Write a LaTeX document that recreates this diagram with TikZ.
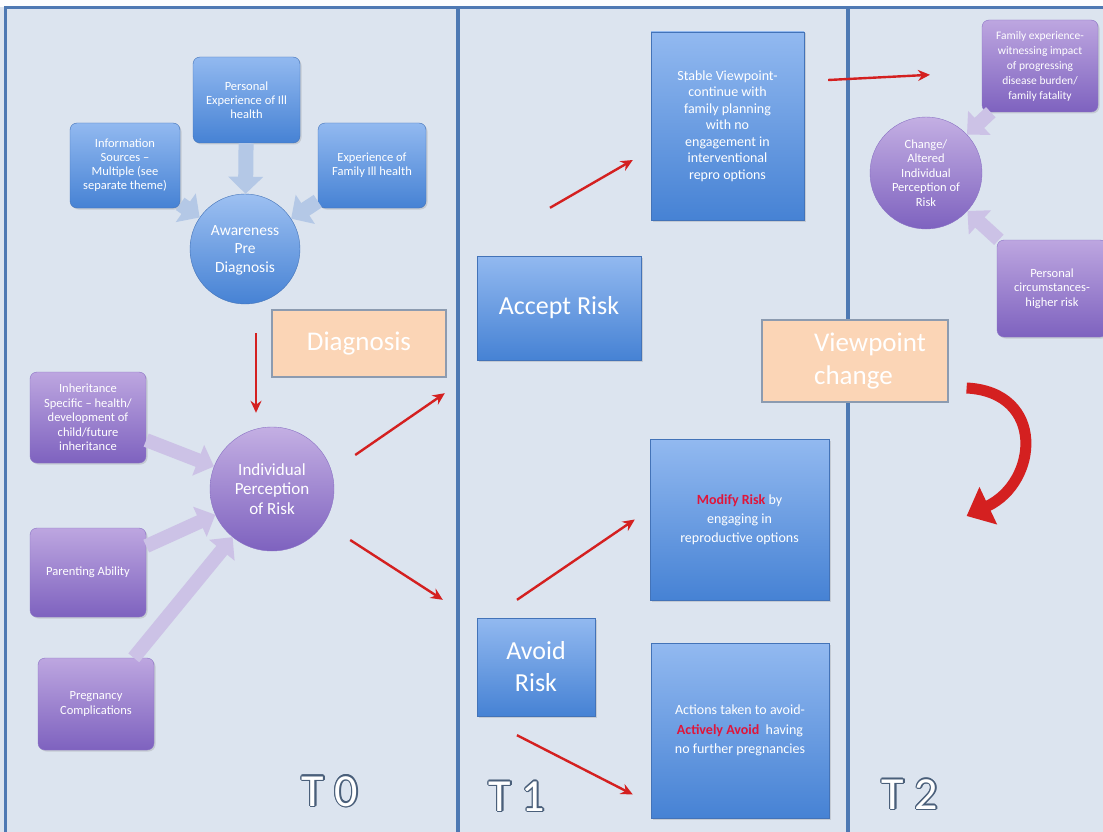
\documentclass[tikz,border=0pt]{standalone}
\usepackage{fontspec}
\setmainfont{Carlito}
\usepackage{contour}
\usetikzlibrary{arrows.meta,shadows}

\definecolor{bgpanel}{HTML}{DCE4EF}
\definecolor{ruleblue}{HTML}{4E79B3}
\definecolor{bluetop}{HTML}{92B9F0}
\definecolor{bluebot}{HTML}{4682D4}
\definecolor{blueedge}{HTML}{4373B8}
\definecolor{purptop}{HTML}{BDA6E0}
\definecolor{purpbot}{HTML}{7E62BF}
\definecolor{purpedge}{HTML}{8A72C4}
\definecolor{peach}{HTML}{FBD5B6}
\definecolor{peachedge}{HTML}{8C9BB0}
\definecolor{paleblue}{HTML}{B4C8E6}
\definecolor{palepurp}{HTML}{CCC2E6}
\definecolor{arrowred}{HTML}{D42020}
\definecolor{hilite}{HTML}{E0153A}
\definecolor{tlabline}{HTML}{4A5F7A}

\contourlength{1.3pt}
\contournumber{12}

\tikzset{
  rule/.style={draw=ruleblue, line width=4.5pt},
  panelbox/.style={rectangle, text=white, align=center, inner sep=2pt,
    drop shadow={opacity=0.25, shadow xshift=1.5pt, shadow yshift=-1.5pt}},
  bluebox/.style={panelbox, draw=blueedge, top color=bluetop, bottom color=bluebot},
  smallblue/.style={bluebox, rounded corners=7pt, font=\fontsize{12.5}{14}\selectfont},
  purpbox/.style={panelbox, rounded corners=7pt, draw=purpedge, top color=purptop,
    bottom color=purpbot, font=\fontsize{12.5}{14.5}\selectfont},
  bluecirc/.style={circle, inner sep=0pt, text=white, align=center, draw=blueedge,
    top color=bluetop!90!white, bottom color=bluebot},
  purpcirc/.style={circle, inner sep=0pt, text=white, align=center, draw=purpedge,
    top color=purptop!90!white, bottom color=purpbot},
  peachbox/.style={rectangle, fill=peach, draw=peachedge, line width=1.2pt, text=white,
    align=center, font=\fontsize{27}{33}\selectfont},
  fatblue/.style={draw=paleblue, line width=15pt, -{Triangle[length=17pt,width=34pt]}},
  fatpurp/.style={draw=palepurp, line width=14pt, -{Triangle[length=17pt,width=32pt]}},
  redarrow/.style={draw=arrowred, line width=2.4pt, -{Stealth[length=12pt,width=11pt]}},
  curvearrow/.style={draw=arrowred, line width=11pt, -{Triangle[length=24pt,width=40pt]}},
  tlab/.style={text=white, font=\fontsize{46}{46}\selectfont}
}

\begin{document}
\begin{tikzpicture}[x=1pt,y=-1pt]
  \useasboundingbox (0,0) rectangle (1103,832);
  \clip (0,0) rectangle (1103,832);
  \fill[bgpanel] (0,0) rectangle (1103,832);
  \fill[white!92!bgpanel] (0,0) rectangle (1103,7);
  %rules between the time points
  \draw[rule, line width=3pt] (5,832) -- (5,8) -- (1103,8);
  \draw[rule] (458,8) -- (458,832);
  \draw[rule] (848,8) -- (848,832);

  %T0: before diagnosis
  \node[smallblue, minimum width=107pt, minimum height=86pt] (pers) at (246.5,100) {Personal\\Experience of Ill\\health};
  \node[smallblue, minimum width=110pt, minimum height=85pt] (info) at (125,165.5) {Information\\Sources --\\Multiple (see\\separate theme)};
  \node[smallblue, minimum width=108pt, minimum height=85pt] (fam) at (372,165.5) {Experience of\\Family Ill health};
  \node[bluecirc, minimum size=110pt, font=\fontsize{15.5}{18.5}\selectfont] (aware) at (245,249) {\\[-6pt]Awareness\\Pre\\Diagnosis};
  \draw[fatblue] (pers) -- (aware);
  \draw[fatblue] (info) -- (aware);
  \draw[fatblue] (fam) -- (aware);

  \node[peachbox, minimum width=174pt, minimum height=67pt] (diag) at (359,343.5) {Diagnosis};

  %T0: after diagnosis
  \node[purpcirc, minimum size=124pt, font=\fontsize{17}{19.5}\selectfont] (indiv) at (272,489) {Individual\\Perception\\of Risk};
  \node[purpbox, minimum width=116pt, minimum height=91pt] (inher) at (88,417.5) {Inheritance\\Specific -- health/\\development of\\child/future\\inheritance};
  \node[purpbox, minimum width=116pt, minimum height=89pt] (parent) at (88,572.5) {Parenting Ability};
  \node[purpbox, minimum width=116pt, minimum height=92pt] (preg) at (96,704) {Pregnancy\\Complications};
  \draw[fatpurp] (inher) -- (indiv);
  \draw[fatpurp] (parent) -- (indiv);
  \draw[fatpurp] (preg) -- (indiv);
  \draw[redarrow, shorten <=29pt, shorten >=14pt] ([xshift=11pt]aware.south) -- ([xshift=11pt]aware.south |- indiv.north);

  \node[tlab] (tzero) at (330,792) {\contour{tlabline}{T 0}};

  %T1
  \node[bluebox, minimum width=164pt, minimum height=104pt, font=\fontsize{26}{32}\selectfont] (accept) at (559,308) {Accept Risk};
  \node[bluebox, minimum width=118pt, minimum height=98pt, font=\fontsize{26}{32}\selectfont] (avoid) at (536,667) {Avoid\\Risk};
  \node[bluebox, minimum width=153pt, minimum height=188pt, font=\fontsize{14}{16.5}\selectfont] (stable) at (727.5,126) {Stable Viewpoint-\\continue with\\family planning\\with no\\engagement in\\interventional\\repro options};
  \node[bluebox, minimum width=179pt, minimum height=161pt, font=\fontsize{14}{19}\selectfont] (modify) at (739.5,519.5) {{\bfseries\color{hilite}Modify Risk} by\\engaging in\\reproductive options};
  \node[bluebox, minimum width=178pt, minimum height=175pt, font=\fontsize{14}{19.5}\selectfont] (actions) at (740,730.5) {Actions taken to avoid-\\{\bfseries\color{hilite}Actively Avoid}\ \ having\\no further pregnancies};

  \draw[redarrow] ([shift={(21,-34)}]indiv.east) -- ([shift={(-32,33)}]accept.south west);
  \draw[redarrow] ([shift={(16,51)}]indiv.east) -- ([shift={(-34,-18)}]avoid.north west);
  \draw[redarrow] ([shift={(-9,-48)}]accept.north) -- ([shift={(-18,34)}]stable.west);
  \draw[redarrow] ([shift={(-19,-18)}]avoid.north) -- ([shift={(-15,0)}]modify.west);
  \draw[redarrow] ([shift={(-19,19)}]avoid.south) -- ([shift={(-18,64)}]actions.west);

  \node[tlab] (tone) at (517,797) {\contour{tlabline}{T 1}};

  %T2
  \node[purpcirc, minimum size=112pt, font=\fontsize{12.5}{14.5}\selectfont] (change) at (926,173) {Change/\\Altered\\Individual\\Perception of\\Risk};
  \node[purpbox, minimum width=116pt, minimum height=92pt, font=\fontsize{11.5}{15}\selectfont] (famexp) at (1040,66) {Family experience-\\witnessing impact\\of progressing\\disease burden/\\family fatality};
  \node[purpbox, minimum width=110pt, minimum height=97pt] (circs) at (1052,288.5) {Personal\\circumstances-\\higher risk};
  \draw[fatpurp] (famexp) -- (change);
  \draw[fatpurp] (circs) -- (change);
  \draw[redarrow] ([shift={(24,-46)}]stable.east) -- ([shift={(4,-42)}]change.north);

  \node[peachbox, minimum width=186pt, minimum height=82pt, align=left] (vpchange) at (855,361) {\hspace*{30pt}Viewpoint\\\hspace*{30pt}change};
  \draw[curvearrow] ([shift={(18,27)}]vpchange.east) .. controls +(79,4) and +(72,-34) .. ([shift={(18,155)}]vpchange.east);

  \node[tlab] (ttwo) at (910,795) {\contour{tlabline}{T 2}};
\end{tikzpicture}
\end{document}
